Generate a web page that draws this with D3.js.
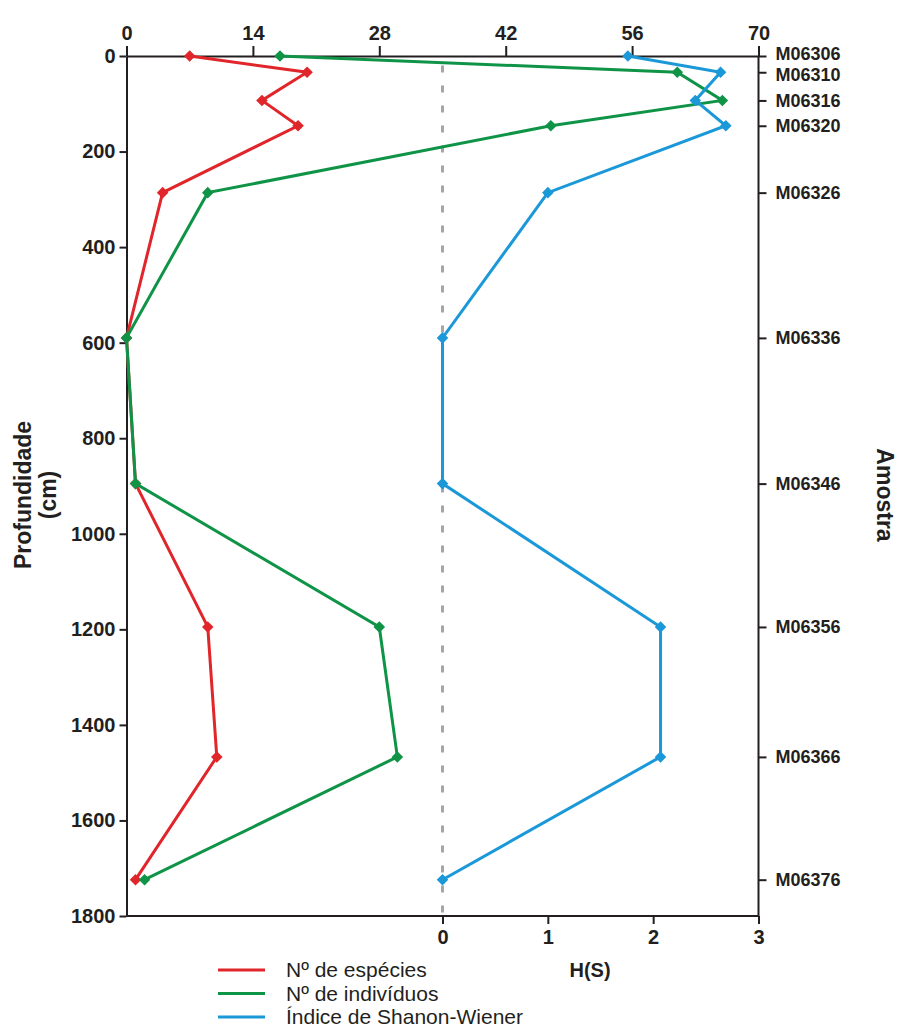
<!DOCTYPE html>
<html>
<head>
<meta charset="utf-8">
<script src="https://cdn.jsdelivr.net/npm/d3@7"></script>
<style>
html,body{margin:0;padding:0;background:#fff;}
svg{display:block;font-family:"Liberation Sans",Arial,sans-serif;}
</style>
</head>
<body>
<svg id="chart" width="898" height="1030"></svg>
<script>
// ---- data ----
const samples = ["M06306","M06310","M06316","M06320","M06326","M06336","M06346","M06356","M06366","M06376"];
const depths = [0, 34, 93, 146, 286, 590, 895, 1195, 1467, 1724];
const nSpecies = [7, 20, 15, 19, 4, 0, 1, 9, 10, 1];
const nIndividuals = [17, 61, 66, 47, 9, 0, 1, 28, 30, 2];
const shannon = [1.76, 2.64, 2.40, 2.69, 1.00, 0, 0, 2.07, 2.07, 0];
const topTicks = [0, 14, 28, 42, 56, 70];
const hTicks = [0, 1, 2, 3];
const depthTicks = [0, 200, 400, 600, 800, 1000, 1200, 1400, 1600, 1800];
const legendLabels = ["Nº de espécies", "Nº de indivíduos", "Índice de Shanon-Wiener"];
const colors = ["#e0262b", "#0f9447", "#1b98d8"];

const svg = d3.select("#chart");
const x = d3.scaleLinear().domain([0, 70]).range([126.5, 758.5]);
const xH = d3.scaleLinear().domain([0, 3]).range([442.5, 758.5]);
const y = d3.scaleLinear().domain([0, 1800]).range([56, 916]);
const axisColor = "#231f20";
const fmt = d3.format("d");

// dashed zero line for H(S)
svg.append("line")
  .attr("x1", xH(0)).attr("x2", xH(0))
  .attr("y1", y(20)).attr("y2", y(1800))
  .attr("stroke", "#a6a6a6").attr("stroke-width", 3)
  .attr("stroke-dasharray", "7,13");

function styleAxis(g, size) {
  g.selectAll("path.domain").attr("stroke", axisColor).attr("stroke-width", 2);
  g.selectAll(".tick line").attr("stroke", axisColor).attr("stroke-width", 2);
  g.selectAll(".tick text").attr("fill", axisColor)
    .style("font-size", size + "px").style("font-weight", "bold")
    .style("font-family", "'Liberation Sans',Arial,sans-serif");
}

// top axis
const gTop = svg.append("g").attr("transform", `translate(0,${y(0)})`)
  .call(d3.axisTop(x).tickValues(topTicks).tickFormat(fmt).tickSize(10).tickSizeOuter(0).tickPadding(6));
styleAxis(gTop, 20);

// left axis
const gLeft = svg.append("g").attr("transform", `translate(${x(0)},0)`)
  .call(d3.axisLeft(y).tickValues(depthTicks).tickFormat(fmt).tickSize(7).tickSizeOuter(0).tickPadding(4));
styleAxis(gLeft, 20);

// right axis (samples)
const gRight = svg.append("g").attr("transform", `translate(${x(70)},0)`)
  .call(d3.axisRight(y).tickValues(depths).tickFormat((d, i) => samples[i]).tickSize(8).tickSizeOuter(0).tickPadding(9));
gRight.select("path.domain").attr("d", `M0,${y(0)}V${y(1800)}`);
styleAxis(gRight, 18);
// nudge the two closely spaced top labels apart slightly
gRight.selectAll(".tick text").attr("y", (d, i) => i === 0 ? -2 : (i === 1 ? 2 : 0));

// bottom axis (H(S))
svg.append("line").attr("x1", x(0)).attr("x2", x(70)).attr("y1", y(1800)).attr("y2", y(1800))
  .attr("stroke", axisColor).attr("stroke-width", 2);
const gBot = svg.append("g").attr("transform", `translate(0,${y(1800)})`)
  .call(d3.axisBottom(xH).tickValues(hTicks).tickFormat(fmt).tickSize(8).tickSizeOuter(0).tickPadding(6));
gBot.select("path.domain").remove();
styleAxis(gBot, 20);

// series
const series = [
  { vals: nSpecies, sx: x, color: colors[0] },
  { vals: nIndividuals, sx: x, color: colors[1] },
  { vals: shannon, sx: xH, color: colors[2] }
];
const diamond = d3.symbol().type(d3.symbolDiamond2).size(85);
series.forEach(s => {
  const pts = depths.map((d, i) => [s.sx(s.vals[i]), y(d)]);
  svg.append("path").attr("d", d3.line()(pts))
    .attr("fill", "none").attr("stroke", s.color).attr("stroke-width", 3)
    .attr("stroke-linejoin", "miter");
  svg.append("g").selectAll("path").data(pts).join("path")
    .attr("transform", p => `translate(${p[0]},${p[1]})`)
    .attr("d", diamond).attr("fill", s.color);
});

// axis titles
const lt = svg.append("g").attr("transform", "translate(31,495) rotate(-90)");
lt.append("text").attr("text-anchor", "middle").attr("x", 0).attr("y", 0)
  .style("font-size", "23px").style("font-weight", "bold").attr("fill", axisColor)
  .text("Profundidade");
lt.append("text").attr("text-anchor", "middle").attr("x", 0).attr("y", 25)
  .style("font-size", "23px").style("font-weight", "bold").attr("fill", axisColor)
  .text("(cm)");

svg.append("text").attr("transform", "translate(877,495) rotate(90)")
  .attr("text-anchor", "middle")
  .style("font-size", "23px").style("font-weight", "bold").attr("fill", axisColor)
  .text("Amostra");

svg.append("text").attr("x", 590).attr("y", 977).attr("text-anchor", "middle")
  .style("font-size", "20px").style("font-weight", "bold").attr("fill", axisColor)
  .text("H(S)");

// legend
const leg = svg.append("g");
legendLabels.forEach((lab, i) => {
  const yy = 970 + i * 23.5;
  leg.append("line").attr("x1", 218).attr("x2", 265).attr("y1", yy).attr("y2", yy)
    .attr("stroke", colors[i]).attr("stroke-width", 3);
  leg.append("text").attr("x", 286).attr("y", yy + 7)
    .style("font-size", "21px").attr("fill", axisColor).text(lab);
});
</script>
</body>
</html>
